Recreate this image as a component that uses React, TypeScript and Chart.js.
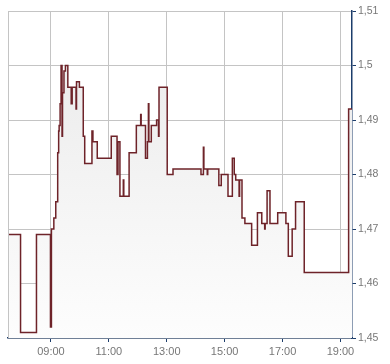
import React, { useEffect, useRef } from "react";
import { Chart, registerables } from "chart.js";

Chart.register(...registerables);

// Times (HH:MM) at which the price level changes
const times: string[] = [
  "07:31", "07:57", "08:30", "08:59", "09:01", "09:06", "09:10", "09:14", "09:16", "09:17",
  "09:19", "09:21", "09:23", "09:24", "09:27", "09:30", "09:35", "09:42", "09:44", "09:52",
  "09:53", "09:59", "10:07", "10:10", "10:25", "10:27", "10:36", "11:05", "11:17", "11:19",
  "11:23", "11:30", "11:31", "11:42", "11:57", "12:06", "12:07", "12:16", "12:20", "12:22",
  "12:23", "12:28", "12:39", "12:43", "12:44", "13:01", "13:13", "14:11", "14:16", "14:17",
  "14:24", "14:25", "14:48", "14:53", "15:07", "15:16", "15:20", "15:23", "15:30", "15:31",
  "15:36", "15:42", "15:56", "16:08", "16:17", "16:23", "16:24", "16:28", "16:34", "16:50",
  "17:07", "17:12", "17:20", "17:27", "17:45", "19:17", "19:24",
];

// Price at each time
const prices: number[] = [
  1.469, 1.451, 1.469, 1.452, 1.470, 1.472, 1.475, 1.484, 1.488, 1.489,
  1.493, 1.500, 1.487, 1.495, 1.499, 1.500, 1.496, 1.493, 1.496, 1.492,
  1.497, 1.496, 1.487, 1.482, 1.488, 1.486, 1.483, 1.487, 1.480, 1.486,
  1.476, 1.479, 1.476, 1.484, 1.489, 1.491, 1.489, 1.483, 1.486, 1.493,
  1.486, 1.489, 1.490, 1.487, 1.496, 1.480, 1.481, 1.480, 1.485, 1.481,
  1.480, 1.481, 1.478, 1.480, 1.476, 1.483, 1.480, 1.479, 1.476, 1.479,
  1.472, 1.471, 1.467, 1.473, 1.471, 1.470, 1.471, 1.477, 1.471, 1.473,
  1.471, 1.465, 1.470, 1.475, 1.462, 1.492, 1.492,
];

const xTickLabels: string[] = ["09:00", "11:00", "13:00", "15:00", "17:00", "19:00"];
const yTickValues: number[] = [1.45, 1.46, 1.47, 1.48, 1.49, 1.5, 1.51];
const xMinLabel = "07:31";
const xMaxLabel = "19:24";

const toMin = (t: string) => {
  const [h, m] = t.split(":").map(Number);
  return h * 60 + m;
};
const fmtMin = (v: number) => {
  const h = Math.floor(v / 60);
  const m = Math.round(v - h * 60);
  return String(h).padStart(2, "0") + ":" + String(m).padStart(2, "0");
};

const NAVY = "#1c3d6b";
const GRID = "#c4c4c4";
const LABEL = "#777777";
const LINE = "#6e2329";

const leftBorder = {
  id: "leftBorder",
  afterDraw(chart: any) {
    const { ctx, chartArea } = chart;
    ctx.save();
    ctx.strokeStyle = GRID;
    ctx.lineWidth = 1;
    ctx.beginPath();
    const x = Math.round(chartArea.left) + 0.5;
    ctx.moveTo(x, chartArea.top);
    ctx.lineTo(x, chartArea.bottom);
    ctx.stroke();
    ctx.restore();
  },
};

export default function App() {
  const ref = useRef<HTMLCanvasElement | null>(null);

  useEffect(() => {
    document.body.style.margin = "0";
    const canvas = ref.current!;
    const data = times.map((t, i) => ({ x: toMin(t), y: prices[i] }));
    const chart = new Chart(canvas, {
      type: "line",
      data: {
        datasets: [
          {
            data,
            stepped: "before",
            borderColor: LINE,
            borderWidth: 1.5,
            pointRadius: 0,
            fill: "start",
            backgroundColor: (c: any) => {
              const area = c.chart.chartArea;
              if (!area) return "#f0f0f0";
              const g = c.chart.ctx.createLinearGradient(0, area.top, 0, area.bottom);
              g.addColorStop(0, "#e9e9e9");
              g.addColorStop(1, "#fdfdfd");
              return g;
            },
          },
        ],
      },
      options: {
        animation: false,
        responsive: false,
        maintainAspectRatio: false,
        layout: { padding: { left: 8, top: 11, right: 0, bottom: 0 } },
        plugins: { legend: { display: false }, tooltip: { enabled: false } },
        scales: {
          x: {
            type: "linear",
            min: toMin(xMinLabel),
            max: toMin(xMaxLabel),
            afterBuildTicks: (s: any) => {
              s.ticks = xTickLabels.map((l) => ({ value: toMin(l) }));
            },
            afterFit: (s: any) => {
              s.height = 26;
            },
            ticks: {
              callback: (v: any) => fmtMin(Number(v)),
              color: LABEL,
              font: { family: "Liberation Sans, Arial", size: 11 },
              padding: 3,
              maxRotation: 0,
              autoSkip: false,
            },
            grid: { color: GRID, tickColor: NAVY, tickLength: 4, lineWidth: 1 },
            border: { display: true, color: NAVY, width: 1.5 },
          },
          y: {
            position: "right",
            min: 1.45,
            max: 1.51,
            afterBuildTicks: (s: any) => {
              s.ticks = yTickValues.map((v) => ({ value: v }));
            },
            afterFit: (s: any) => {
              s.width = 38;
            },
            ticks: {
              callback: (v: any) => String(Number(v).toFixed(2)).replace(/0$/, "").replace(".", ","),
              color: LABEL,
              font: { family: "Liberation Sans, Arial", size: 10.5 },
              padding: 2,
            },
            grid: { color: GRID, tickColor: NAVY, tickLength: 4, lineWidth: 1 },
            border: { display: true, color: NAVY, width: 1.5 },
          },
        },
      },
      plugins: [leftBorder],
    });
    return () => chart.destroy();
  }, []);

  return <canvas ref={ref} width={390} height={364} style={{ display: "block", width: 390, height: 364 }} />;
}
